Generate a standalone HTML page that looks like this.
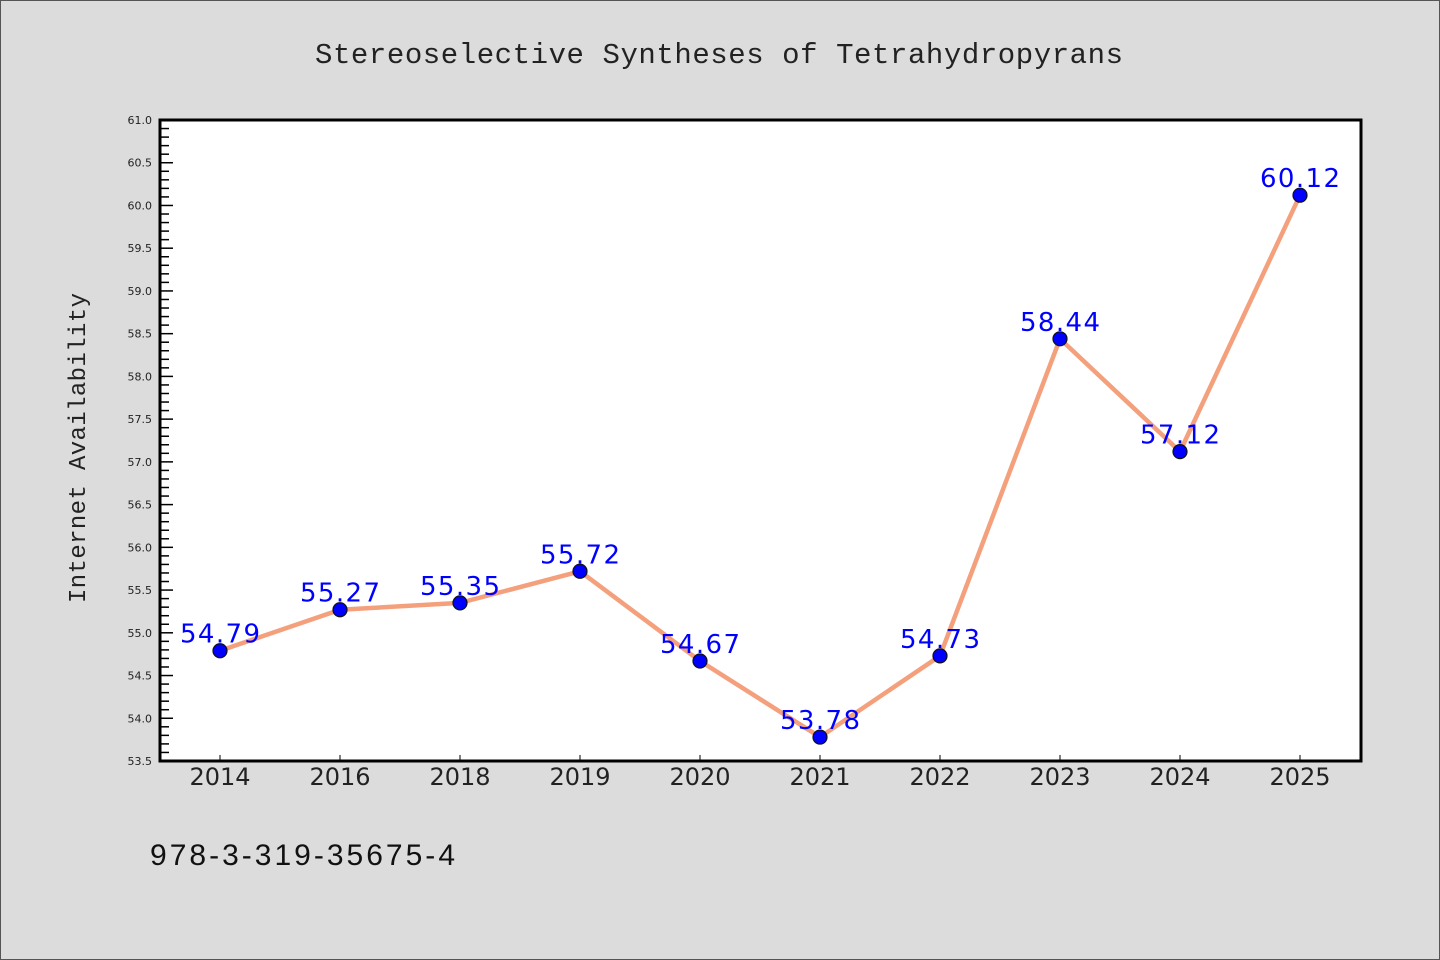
<!DOCTYPE html>
<html><head><meta charset="utf-8"><style>
html,body{margin:0;padding:0;background:#dcdcdc;}
svg{display:block;}
</style></head><body>
<svg id="chart" width="1440" height="960" xmlns="http://www.w3.org/2000/svg">
<rect x="0.5" y="0.5" width="1439" height="959" fill="#dcdcdc" stroke="#555"/>
<text x="719" y="63" text-anchor="middle" font-family="Liberation Mono, monospace" font-size="29" fill="#222" textLength="808">Stereoselective Syntheses of Tetrahydropyrans</text>
<rect x="160" y="120" width="1201" height="641" fill="#fff"/>
<g id="axes"></g>
<g id="series"></g>
<rect x="160" y="120" width="1201" height="641" fill="none" stroke="#000" stroke-width="3"/>
<text transform="translate(85,448) rotate(-90)" text-anchor="middle" font-family="Liberation Mono, monospace" font-size="24" fill="#222" textLength="310">Internet Availability</text>
<text x="150" y="865" font-family="Liberation Sans, sans-serif" font-size="30" fill="#111" textLength="305">978-3-319-35675-4</text>
</svg>
<script>
const categories = ["2014","2016","2018","2019","2020","2021","2022","2023","2024","2025"];
const values = [54.79,55.27,55.35,55.72,54.67,53.78,54.73,58.44,57.12,60.12];
const yTicks = [53.5,54.0,54.5,55.0,55.5,56.0,56.5,57.0,57.5,58.0,58.5,59.0,59.5,60.0,60.5,61.0];
const yMin = 53.5, yMax = 61.0;
const NS = "http://www.w3.org/2000/svg";
const L = 160, R = 1361, T = 120, B = 761;
function xPos(i){ return 220 + i * 120; }
function yPos(v){ return B - (v - yMin) / (yMax - yMin) * (B - T); }
function mk(tag, attrs, parent){ const e = document.createElementNS(NS, tag); for (const k in attrs) e.setAttribute(k, attrs[k]); parent.appendChild(e); return e; }
const axes = document.getElementById("axes");
const series = document.getElementById("series");
for (let k = 0; k <= Math.round((yMax - yMin) * 10); k++) {
  const v = yMin + k * 0.1;
  const y = yPos(v);
  const major = k % 5 === 0;
  const t = mk("line", {x1: L, x2: L + (major ? 13 : 9), y1: y, y2: y, stroke: "#000", "stroke-width": 1.5}, axes);
  
  
}
yTicks.forEach(v => {
  const t = mk("text", {x: 152, y: yPos(v) + 4, "text-anchor": "end", "font-family": "DejaVu Sans, Liberation Sans, sans-serif", "font-size": 11, fill: "#222"}, axes);
  t.textContent = v.toFixed(1);
  
  
});
categories.forEach((c, i) => {
  const x = xPos(i);
  const tk = mk("line", {x1: x, x2: x, y1: B, y2: B - 6, stroke: "#000", "stroke-width": 1}, axes);
  
  
  const t = mk("text", {x: x, y: 785, "text-anchor": "middle", "font-family": "DejaVu Sans, Liberation Sans, sans-serif", "font-size": 24, fill: "#222"}, axes);
  t.textContent = c;
  
  
});
const pts = values.map((v, i) => xPos(i) + "," + yPos(v)).join(" ");
const line = mk("polyline", {points: pts, fill: "none", stroke: "#f4a07c", "stroke-width": 4.5, "stroke-linejoin": "round"}, series);


values.forEach((v, i) => {
  const c = mk("circle", {cx: xPos(i), cy: yPos(v), r: 7, fill: "#0000ff", stroke: "#111", "stroke-width": 1.2}, series);
  
  
});
values.forEach((v, i) => {
  const t = mk("text", {x: xPos(i), y: yPos(v) - 8, "text-anchor": "middle", "font-family": "DejaVu Sans, Liberation Sans, sans-serif", "font-size": 26, fill: "#0000ff", textLength: 80, lengthAdjust: "spacing"}, series);
  t.textContent = v.toFixed(2);
  
  
});
</script>
</body></html>
